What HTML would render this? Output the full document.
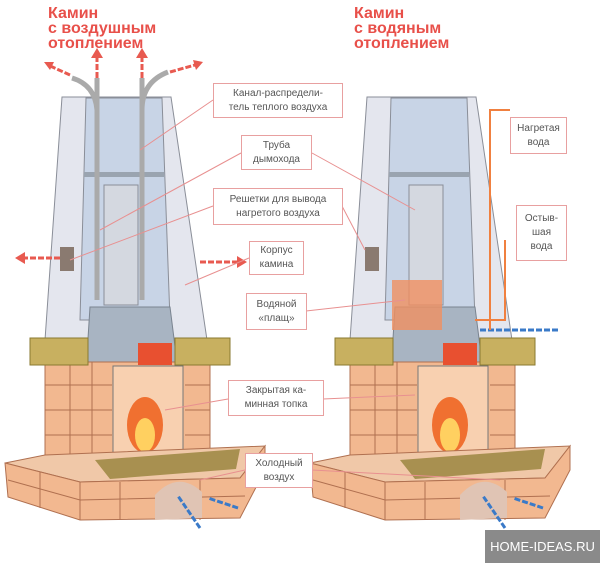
<!DOCTYPE html><html><head><meta charset="utf-8"><style>
body{margin:0;background:#fff;width:600px;height:563px;overflow:hidden;position:relative;font-family:"Liberation Sans",sans-serif}
.t{position:absolute;color:#e8504a;font-weight:bold;font-size:16px;line-height:15px}
.b{position:absolute;border:1px solid #e8a0a0;background:#fff;color:#555;font-size:10px;line-height:14px;text-align:center;display:flex;align-items:center;justify-content:center;box-sizing:border-box}
</style></head><body>
<svg width="600" height="563" style="position:absolute;left:0;top:0">
<defs>
<g id="fp">
<polygon points="62,97 171,97 207,340 45,340" fill="#e4e6ee" stroke="#8a8e98"/>
<polygon points="86,98 162,98 170,320 80,320" fill="#c8d4e6" stroke="#8a8e98"/>
<rect x="84" y="172" width="80" height="5" fill="#9aa4b0"/>
<rect x="104" y="185" width="34" height="120" fill="#d4d8e0" stroke="#8a8e98"/>
<polygon points="90,307 170,307 178,370 86,370" fill="#a8b4c2" stroke="#7a8490"/>
<rect x="45" y="362" width="165" height="103" fill="#f2b890" stroke="#b07050"/>
<path d="M45 385H112M45 410H112M45 435H112M185 385H210M185 410H210M185 435H210M70 362V465M92 362V465" stroke="#b07050"/>
<rect x="30" y="338" width="58" height="27" fill="#c8b060" stroke="#8a7a30"/>
<rect x="175" y="338" width="55" height="27" fill="#c8b060" stroke="#8a7a30"/>
<rect x="113" y="366" width="70" height="90" fill="#f8d0b0" stroke="#777"/>
<rect x="138" y="343" width="34" height="22" fill="#e85030"/>
<ellipse cx="145" cy="425" rx="18" ry="28" fill="#f07030"/>
<ellipse cx="145" cy="435" rx="10" ry="17" fill="#ffd060"/>
<polygon points="5,463 45,455 265,446 240,478 80,482" fill="#f0c8a8" stroke="#b07050"/>
<polygon points="95,460 240,449 236,469 110,479" fill="#a89050"/>
<polygon points="5,463 80,482 240,478 265,446 265,470 240,518 80,520 8,497" fill="#f2b890" stroke="#b07050"/>
<path d="M8 480L80 500L245 496M80 482V520M40 472V508M120 482V520M200 480V520" stroke="#b07050" fill="none"/>
<path d="M155 520V495Q178 470 202 492V518Z" fill="#e0c4b4"/>
<rect x="60" y="247" width="14" height="24" fill="#8a7a70"/>
</g>
</defs>
<use href="#fp"/>
<use href="#fp" transform="translate(305,0)"/>
<rect x="392" y="280" width="50" height="50" fill="#f09060" opacity="0.8"/>
<g stroke="#aaa" stroke-width="5" fill="none"><path d="M97 78V300M142 78V300M72 78Q95 85 97 110M168 72Q142 82 142 110"/></g>
<g stroke="#e85a50" stroke-width="3" fill="none" stroke-dasharray="6 2">
<path d="M60 258H22M200 262H238M97 78V55M142 78V55M70 75L48 65M170 72L195 65"/></g>
<g fill="#e85a50"><path d="M15 258L25 252V264Z"/><path d="M247 262L237 256V268Z"/><path d="M97 48L91 58H103Z"/><path d="M142 48L136 58H148Z"/><path d="M44 62L54 62L50 70Z"/><path d="M203 62L193 60L196 70Z"/></g>
<g stroke="#3a7ac8" stroke-width="3" fill="none" stroke-dasharray="6 2">
<path d="M200 528L178 496M238 508L208 498M505 528L483 496M543 508L513 498M480 330H560"/></g>
<g stroke="#f08040" stroke-width="2" fill="none"><path d="M490 330V110H510M475 320H505V240"/></g>
<g stroke="#e89090" fill="none"><path d="M213 100L140 150M241 153L100 230M213 206L70 260M249 258L185 285M312 153L415 210M342 206L365 250M306 311L405 300M228 399L165 410M323 399L415 395M245 470L200 480M312 470L500 480"/></g>
</svg>
<div class="t" style="left:48px;top:6px">Камин<br>с воздушным<br>отоплением</div>
<div class="t" style="left:354px;top:6px">Камин<br>с водяным<br>отоплением</div>
<div class="b" style="left:213px;top:83px;width:130px;height:35px">Канал-распредели-<br>тель теплого воздуха</div>
<div class="b" style="left:241px;top:135px;width:71px;height:35px">Труба<br>дымохода</div>
<div class="b" style="left:213px;top:188px;width:130px;height:37px">Решетки для вывода<br>нагретого воздуха</div>
<div class="b" style="left:249px;top:241px;width:55px;height:34px">Корпус<br>камина</div>
<div class="b" style="left:246px;top:293px;width:61px;height:37px">Водяной<br>«плащ»</div>
<div class="b" style="left:228px;top:380px;width:96px;height:36px">Закрытая ка-<br>минная топка</div>
<div class="b" style="left:245px;top:453px;width:68px;height:35px">Холодный<br>воздух</div>
<div class="b" style="left:510px;top:117px;width:57px;height:37px">Нагретая<br>вода</div>
<div class="b" style="left:516px;top:205px;width:51px;height:56px">Остыв-<br>шая<br>вода</div>
<div style="position:absolute;left:485px;top:530px;width:115px;height:33px;background:#8a8a8a;color:#fff;font-size:13px;line-height:33px;text-align:center;white-space:nowrap">HOME-IDEAS.RU</div>
</body></html>
